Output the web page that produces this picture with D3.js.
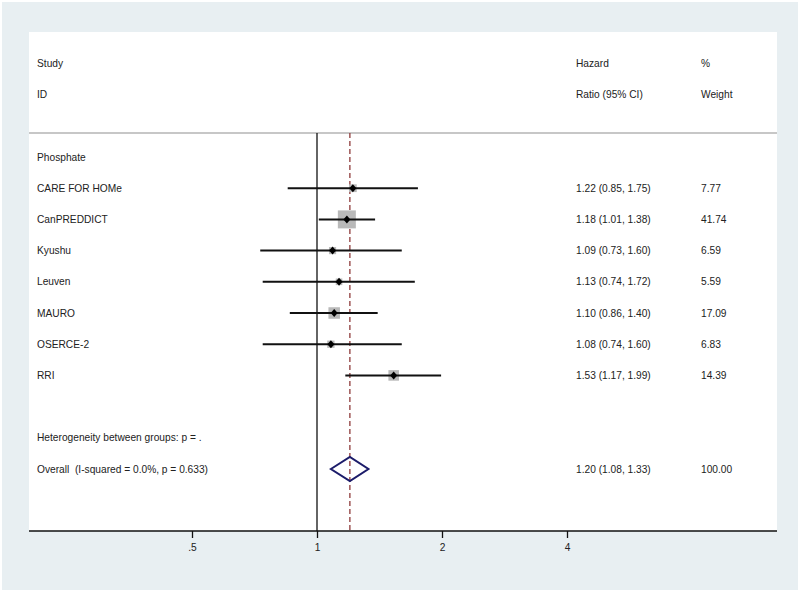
<!DOCTYPE html>
<html>
<head>
<meta charset="utf-8">
<script src="https://cdn.jsdelivr.net/npm/d3@7"></script>
<style>
  html, body { margin: 0; padding: 0; background: #ffffff; }
  svg { display: block; }
  text { font-family: "Liberation Sans", Arial, sans-serif; font-size: 10.2px; fill: #222; white-space: pre; }
</style>
</head>
<body>
<svg id="chart" width="800" height="592"></svg>
<script>
// ---- data ----
const studies = ["CARE FOR HOMe", "CanPREDDICT", "Kyushu", "Leuven", "MAURO", "OSERCE-2", "RRI"];
const hr      = [1.22, 1.18, 1.09, 1.13, 1.10, 1.08, 1.53];
const ciLow   = [0.85, 1.01, 0.73, 0.74, 0.86, 0.74, 1.17];
const ciHigh  = [1.75, 1.38, 1.60, 1.72, 1.40, 1.60, 1.99];
const weights = [7.77, 41.74, 6.59, 5.59, 17.09, 6.83, 14.39];
const ciLabels = ["1.22 (0.85, 1.75)", "1.18 (1.01, 1.38)", "1.09 (0.73, 1.60)", "1.13 (0.74, 1.72)",
                  "1.10 (0.86, 1.40)", "1.08 (0.74, 1.60)", "1.53 (1.17, 1.99)"];
const weightLabels = ["7.77", "41.74", "6.59", "5.59", "17.09", "6.83", "14.39"];
const overallHR = [1.20];
const overallLow = [1.08];
const overallHigh = [1.33];
const overallLabel = "1.20 (1.08, 1.33)";
const overallWeight = "100.00";
const groupLabel = "Phosphate";
const hetLabel = "Heterogeneity between groups: p = .";
const overallText = "Overall  (I-squared = 0.0%, p = 0.633)";
const tickValues = [0.5, 1, 2, 4];
const tickLabels = [".5", "1", "2", "4"];

// ---- layout ----
const svg = d3.select("#chart");
const W = 800, H = 592;
const plot = { left: 29, right: 777, top: 32, bottom: 531 };

svg.append("rect").attr("x", 0).attr("y", 0).attr("width", W).attr("height", H).attr("fill", "#ffffff");
svg.append("rect").attr("x", 2).attr("y", 2).attr("width", W - 4).attr("height", H - 4).attr("fill", "#e8eff2");
svg.append("rect").attr("x", plot.left).attr("y", plot.top)
   .attr("width", plot.right - plot.left).attr("height", plot.bottom - plot.top).attr("fill", "#ffffff");

const x = d3.scaleLog().base(2).domain([0.5, 4]).range([192, 567]);
const y = d3.scaleLinear().domain([0, 10]).range([157, 469]);
const box = d3.scaleSqrt().domain([0, d3.max(weights)]).range([0, 18]);

const colText = 37, colHR = 576, colW = 701;
const sepY = y(-0.77);

// header
[["Study", -3, colText], ["ID", -2, colText], ["Hazard", -3, colHR], ["Ratio (95% CI)", -2, colHR],
 ["%", -3, colW], ["Weight", -2, colW]].forEach(([t, r, cx]) => {
  svg.append("text").attr("x", cx).attr("y", y(r)).attr("dy", "0.35em").text(t);
});

// separator line
svg.append("line").attr("x1", plot.left).attr("x2", plot.right).attr("y1", sepY).attr("y2", sepY)
   .attr("stroke", "#b4b4b4").attr("stroke-width", 1.5);

// null line at 1
svg.append("line").attr("x1", x(1)).attr("x2", x(1)).attr("y1", sepY).attr("y2", plot.bottom)
   .attr("stroke", "#111").attr("stroke-width", 1.3);

// overall dashed line
svg.append("line").attr("x1", x(overallHR[0])).attr("x2", x(overallHR[0])).attr("y1", sepY).attr("y2", plot.bottom)
   .attr("stroke", "#8e3a3a").attr("stroke-width", 1.3).attr("stroke-dasharray", "5,3");

// group label
svg.append("text").attr("x", colText).attr("y", y(0)).attr("dy", "0.35em").text(groupLabel);

const rows = studies.map((s, i) => ({ s, hr: hr[i], lo: ciLow[i], hi: ciHigh[i], w: weights[i],
                                       ci: ciLabels[i], wl: weightLabels[i], r: i + 1 }));

const g = svg.append("g");
// boxes
g.selectAll("rect.box").data(rows).join("rect").attr("class", "box")
  .attr("x", d => x(d.hr) - box(d.w) / 2).attr("y", d => y(d.r) - box(d.w) / 2)
  .attr("width", d => box(d.w)).attr("height", d => box(d.w)).attr("fill", "#b9b9b9");
// CI lines
g.selectAll("line.ci").data(rows).join("line").attr("class", "ci")
  .attr("x1", d => x(d.lo)).attr("x2", d => x(d.hi)).attr("y1", d => y(d.r)).attr("y2", d => y(d.r))
  .attr("stroke", "#111").attr("stroke-width", 2);
// point diamonds
g.selectAll("path.pt").data(rows).join("path").attr("class", "pt")
  .attr("d", d => {
    const cx = x(d.hr), cy = y(d.r);
    return `M${cx - 3.5},${cy}L${cx},${cy - 4}L${cx + 3.5},${cy}L${cx},${cy + 4}Z`;
  }).attr("fill", "#000");
// labels
g.selectAll("text.name").data(rows).join("text").attr("class", "name")
  .attr("x", colText).attr("y", d => y(d.r)).attr("dy", "0.35em").text(d => d.s);
g.selectAll("text.cil").data(rows).join("text").attr("class", "cil")
  .attr("x", colHR).attr("y", d => y(d.r)).attr("dy", "0.35em").text(d => d.ci);
g.selectAll("text.wl").data(rows).join("text").attr("class", "wl")
  .attr("x", colW).attr("y", d => y(d.r)).attr("dy", "0.35em").text(d => d.wl);

// heterogeneity and overall
svg.append("text").attr("x", colText).attr("y", y(9)).attr("dy", "0.35em").text(hetLabel);
svg.append("text").attr("x", colText).attr("y", y(10)).attr("dy", "0.35em").text(overallText);
svg.append("text").attr("x", colHR).attr("y", y(10)).attr("dy", "0.35em").text(overallLabel);
svg.append("text").attr("x", colW).attr("y", y(10)).attr("dy", "0.35em").text(overallWeight);

const oy = y(10);
svg.append("path")
  .attr("d", `M${x(overallLow[0])},${oy}L${x(overallHR[0])},${oy - 12}L${x(overallHigh[0])},${oy}L${x(overallHR[0])},${oy + 12}Z`)
  .attr("fill", "none").attr("stroke", "#1c1c6a").attr("stroke-width", 2);

// axis
svg.append("line").attr("x1", plot.left).attr("x2", plot.right).attr("y1", plot.bottom).attr("y2", plot.bottom)
   .attr("stroke", "#111").attr("stroke-width", 1.5);
const axis = d3.axisBottom(x).tickValues(tickValues).tickFormat((d, i) => tickLabels[i]).tickSize(7).tickPadding(6);
const ax = svg.append("g").attr("transform", `translate(0,${plot.bottom})`).call(axis);
ax.select(".domain").remove();
ax.selectAll(".tick line").attr("stroke", "#111").attr("stroke-width", 1.3);
ax.selectAll(".tick text").attr("font-family", "Liberation Sans, Arial, sans-serif").attr("font-size", 10.2).attr("fill", "#222");
</script>
</body>
</html>
